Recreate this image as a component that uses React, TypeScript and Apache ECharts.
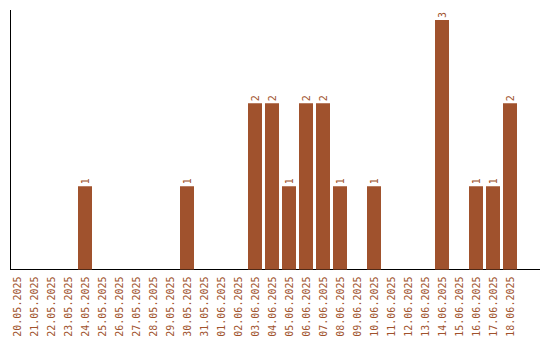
import React, { useEffect, useRef } from "react";
import * as echarts from "echarts";

const categories: string[] = [
  "20.05.2025", "21.05.2025", "22.05.2025", "23.05.2025", "24.05.2025", "25.05.2025",
  "26.05.2025", "27.05.2025", "28.05.2025", "29.05.2025", "30.05.2025", "31.05.2025",
  "01.06.2025", "02.06.2025", "03.06.2025", "04.06.2025", "05.06.2025", "06.06.2025",
  "07.06.2025", "08.06.2025", "09.06.2025", "10.06.2025", "11.06.2025", "12.06.2025",
  "13.06.2025", "14.06.2025", "15.06.2025", "16.06.2025", "17.06.2025", "18.06.2025",
];

const values: number[] = [
  0, 0, 0, 0, 1, 0,
  0, 0, 0, 0, 1, 0,
  0, 0, 2, 2, 1, 2,
  2, 1, 0, 1, 0, 0,
  0, 3, 0, 1, 1, 2,
];

const COLOR = "#a0522d";
const FONT = "DejaVu Sans Mono";

export default function App() {
  const ref = useRef<HTMLDivElement>(null);
  useEffect(() => {
    if (!ref.current) return;
    const chart = echarts.init(ref.current, null, { renderer: "svg" });
    chart.setOption({
      animation: false,
      grid: { left: 8.5, width: 510, top: 10, bottom: 70.5, containLabel: false },
      xAxis: {
        type: "category",
        data: categories,
        axisLine: { show: false },
        axisTick: { show: false },
        axisLabel: {
          rotate: 90,
          interval: 0,
          margin: 7,
          color: COLOR,
          fontFamily: FONT,
          fontSize: 10,
        },
      },
      yAxis: {
        type: "value",
        min: 0,
        max: 3.12,
        axisLine: { show: false },
        axisTick: { show: false },
        axisLabel: { show: false },
        splitLine: { show: false },
      },
      series: [
        {
          type: "bar",
          data: values.map((v) => (v === 0 ? null : v)),
          barWidth: 14,
          itemStyle: { color: COLOR },
          label: {
            show: true,
            position: "top",
            rotate: 90,
            distance: 2,
            align: "left",
            verticalAlign: "middle",
            color: COLOR,
            fontFamily: FONT,
            fontSize: 10,
          },
        },
      ],
      graphic: [
        {
          type: "line",
          shape: { x1: 10.5, y1: 10, x2: 10.5, y2: 270 },
          style: { stroke: "#000", lineWidth: 1 },
        },
        {
          type: "line",
          shape: { x1: 10, y1: 269.5, x2: 540, y2: 269.5 },
          style: { stroke: "#000", lineWidth: 1 },
        },
      ],
    });
    return () => chart.dispose();
  }, []);
  return (
    <div
      ref={ref}
      style={{ width: 540, height: 340, position: "absolute", left: 0, top: 0 }}
    />
  );
}
